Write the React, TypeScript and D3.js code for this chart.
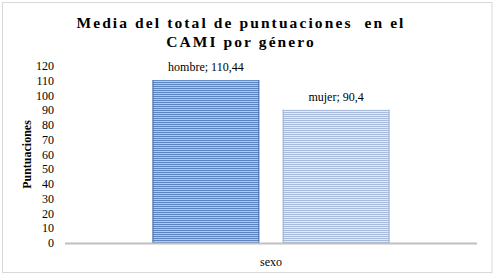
import React from "react";
import * as d3 from "d3";

const categories = ["hombre", "mujer"];
const values = [110.44, 90.4];
const valueLabels = ["110,44", "90,4"];
const yTicks = [0, 10, 20, 30, 40, 50, 60, 70, 80, 90, 100, 110, 120];
const titleLines = ["Media del total de puntuaciones  en el", "CAMI por género"];
const xAxisTitle = "sexo";
const yAxisTitle = "Puntuaciones";

const W = 496;
const H = 276;
const plotLeft = 65;
const plotRight = 477;
const plotTop = 66;
const plotBottom = 243;
const SERIF = "Liberation Serif";

export default function App() {
  const y = d3.scaleLinear().domain([0, 120]).range([plotBottom, plotTop]);
  const xOuter = d3.scaleBand().domain(["sexo"]).range([plotLeft, plotRight]).paddingInner(0).paddingOuter(0.369);
  const x = d3
    .scaleBand()
    .domain(categories)
    .range([xOuter("sexo")!, xOuter("sexo")! + xOuter.bandwidth()])
    .paddingInner(0.18)
    .paddingOuter(0);
  const fills = ["url(#stripe1)", "url(#stripe2)"];
  const edge = ["#4a72ad", "#9fb1d6"];
  return (
    <div style={{ position: "fixed", left: 0, top: 0, fontFamily: `'${SERIF}'` }}>
      <svg width={W} height={H} fontFamily={SERIF}>
        <defs>
          <pattern id="stripe1" patternUnits="userSpaceOnUse" width="4" height="2">
            <rect width="4" height="2" fill="#b4c9e8" />
            <rect width="4" height="1" fill="#5a83bf" />
          </pattern>
          <pattern id="stripe2" patternUnits="userSpaceOnUse" width="4" height="2">
            <rect width="4" height="2" fill="#e3e9f5" />
            <rect width="4" height="1" fill="#a9bbdd" />
          </pattern>
        </defs>
        <rect x={0} y={0} width={W} height={H} fill="#fff" />
        <rect x={2.5} y={2.5} width={489.5} height={270} fill="#fff" stroke="#d9d9d9" strokeWidth={1} />
        {titleLines.map((t, i) => (
          <text
            key={i}
            x={241}
            y={28 + i * 19}
            textAnchor="middle"
            fontWeight="bold"
            fontSize={15.5}
            letterSpacing={2.1}
            style={{ fontFamily: `'${SERIF}'`, whiteSpace: "pre" }}
          >
            {t}
          </text>
        ))}
        {yTicks.map((t) => (
          <text key={t} x={54} y={y(t)} dy="0.35em" textAnchor="end" fontSize={12} style={{ fontFamily: `'${SERIF}'` }}>
            {t}
          </text>
        ))}
        <text
          transform={`translate(27,${(plotTop + plotBottom) / 2}) rotate(-90)`}
          textAnchor="middle"
          style={{ fontFamily: `'${SERIF}'` }}
          fontWeight="bold"
          fontSize={12}
          dy="0.35em"
        >
          {yAxisTitle}
        </text>
        {categories.map((c, i) => {
          const bx = x(c)!;
          const bw = x.bandwidth();
          const top = y(values[i]);
          return (
            <g key={c}>
              <rect x={bx} y={top} width={bw} height={plotBottom - top} fill={fills[i]} />
              <rect x={bx} y={top} width={1} height={plotBottom - top} fill={edge[i]} />
              <rect x={bx + bw - 1} y={top} width={1} height={plotBottom - top} fill={edge[i]} />
              <text x={bx + bw / 2} y={top - 9} textAnchor="middle" style={{ fontFamily: `'${SERIF}'` }} fontSize={12}>
                {`${c}; ${valueLabels[i]}`}
              </text>
            </g>
          );
        })}
        <line x1={plotLeft} x2={plotRight} y1={plotBottom + 0.5} y2={plotBottom + 0.5} stroke="#bfbfbf" strokeWidth={2} />
        <text x={(plotLeft + plotRight) / 2} y={266} textAnchor="middle" style={{ fontFamily: `'${SERIF}'` }} fontSize={12}>
          {xAxisTitle}
        </text>
      </svg>
    </div>
  );
}
